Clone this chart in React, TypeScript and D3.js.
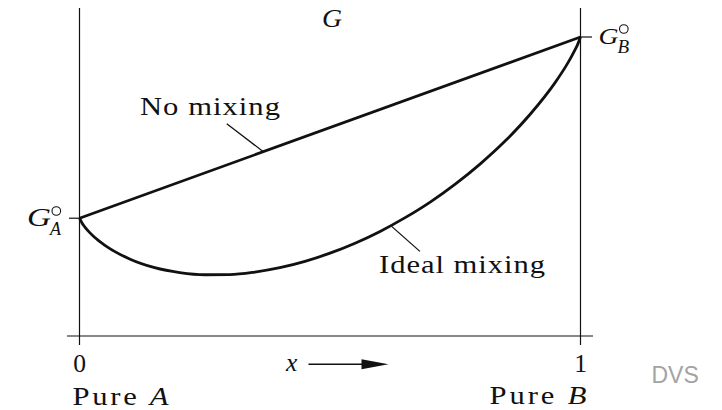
import React from "react";
import * as d3 from "d3";

// Mole fraction of B and the Gibbs energy
const compositions = [0, 0.005, 0.01, 0.02, 0.03, 0.05, 0.1, 0.15, 0.2, 0.25, 0.3, 0.35, 0.4, 0.45, 0.5, 0.55, 0.6, 0.65, 0.7, 0.75, 0.8, 0.85, 0.9, 0.95, 0.97, 0.98, 0.99, 0.995, 1];
const idealMixingG = [1, 0.9735, 0.954, 0.922, 0.895, 0.852, 0.775, 0.727, 0.7, 0.688, 0.689, 0.703, 0.727, 0.762, 0.807, 0.862, 0.927, 1.003, 1.089, 1.188, 1.3, 1.427, 1.575, 1.751, 1.835, 1.882, 1.934, 1.9635, 2];
const noMixingX = [0, 1];
const noMixingG = [1, 2];
const xTicks = [0, 1];
const xTickLabels = ["0", "1"];

const W = 722;
const H = 410;
const FONT = "'Liberation Serif', 'Times New Roman', serif";
const INK = "#111";
const WIDEN = 1.2;

// Serif label widened slightly, remaining width taken up by letter spacing
function Label({ x, y, width, children }: { x: number; y: number; width: number; children: React.ReactNode }) {
  return (
    <text
      transform={`translate(${x},${y}) scale(${WIDEN},1)`}
      textLength={width / WIDEN}
      lengthAdjust="spacing"
    >
      {children}
    </text>
  );
}

// G with a standard-state ring above and a species subscript below
function StdG({
  x, y, sub, gWidth, gSize, subSize, subDy,
}: { x: number; y: number; sub: string; gWidth: number; gSize: number; subSize: number; subDy: number }) {
  return (
    <g transform={`translate(${x},${y})`}>
      <text fontStyle="italic" fontSize={gSize} textLength={gWidth} lengthAdjust="spacingAndGlyphs">G</text>
      <circle cx={gWidth + 5.3} cy={-15} r={4.3} fill="none" stroke={INK} strokeWidth={1.1} />
      <text x={gWidth - 1} y={subDy} fontStyle="italic" fontSize={subSize}>{sub}</text>
    </g>
  );
}

export default function App() {
  const x = d3.scaleLinear().domain([0, 1]).range([79.5, 580.5]);
  const y = d3.scaleLinear().domain([0.35, 2.16]).range([336, 8]);

  const line = d3
    .line<[number, number]>()
    .x((d) => x(d[0]))
    .y((d) => y(d[1]))
    .curve(d3.curveMonotoneX);

  const ideal: [number, number][] = compositions.map((c, i) => [c, idealMixingG[i]]);
  const noMix: [number, number][] = noMixingX.map((c, i) => [c, noMixingG[i]]);

  const yTop = y(2.16);
  const yBase = y(0.35);

  const gA = y(noMixingG[0]);
  const gB = y(noMixingG[1]);

  // leader anchors on the curves
  const noMixAnchor = { x: 0.367, g: 1.367 };
  const idealAnchor = { x: 0.623, g: 0.955 };
  const nmx = x(noMixAnchor.x);
  const nmy = y(noMixAnchor.g);
  const idx = x(idealAnchor.x);
  const idy = y(idealAnchor.g);

  return (
    <svg
      width={W}
      height={H}
      style={{ position: "absolute", left: 0, top: 0, background: "#fff" }}
      fontFamily={FONT}
    >
      {/* frame: two composition verticals and the baseline */}
      <g stroke={INK} strokeWidth={1.2} fill="none">
        <line x1={x(0)} x2={x(0)} y1={yTop} y2={yBase + 9} />
        <line x1={x(1)} x2={x(1)} y1={yTop} y2={yBase + 9} />
        <line x1={x(0) - 12.5} x2={x(1) + 12.5} y1={yBase} y2={yBase} />
        <line x1={x(0) - 10.5} x2={x(0)} y1={gA} y2={gA} />
        <line x1={x(1)} x2={x(1) + 11.5} y1={gB} y2={gB} />
      </g>

      {/* curves */}
      <path d={line(noMix) ?? ""} fill="none" stroke={INK} strokeWidth={2.8} strokeLinejoin="round" />
      <path d={line(ideal) ?? ""} fill="none" stroke={INK} strokeWidth={2.8} strokeLinejoin="round" />

      {/* leaders */}
      <g stroke={INK} strokeWidth={1.3}>
        <line x1={nmx - 36.6} y1={nmy - 28} x2={nmx} y2={nmy} />
        <line x1={idx} y1={idy} x2={idx + 28.3} y2={idy + 25} />
      </g>

      <g fill={INK} fontSize={25.5}>
        <Label x={140} y={115} width={140}>No mixing</Label>
        <Label x={379} y={273} width={166}>Ideal mixing</Label>

        {/* axis title */}
        <text x={322} y={26.5} fontStyle="italic" textLength={20} lengthAdjust="spacingAndGlyphs">G</text>

        {/* pure-component energies */}
        <StdG x={27} y={226} sub="A" gWidth={24} gSize={25.5} subSize={18} subDy={8.5} />
        <StdG x={598.5} y={44} sub="B" gWidth={20} gSize={23} subSize={19} subDy={9} />

        {/* composition ticks */}
        {xTicks.map((t, i) => (
          <text key={t} x={x(t)} y={371.5} textAnchor="middle">{xTickLabels[i]}</text>
        ))}

        <Label x={72.5} y={405} width={96}>
          Pure <tspan fontStyle="italic">A</tspan>
        </Label>
        <Label x={489.5} y={404} width={97}>
          Pure <tspan fontStyle="italic">B</tspan>
        </Label>

        {/* composition arrow */}
        <text x={286} y={371} fontStyle="italic">x</text>
      </g>
      <line x1={308.5} x2={366} y1={364.3} y2={364.3} stroke={INK} strokeWidth={1.4} />
      <path d="M361.5,359.3 L388.5,364.3 L361.5,369.3 Z" fill={INK} />

      <text
        x={651.5}
        y={383.3}
        fontFamily="'Liberation Sans', Arial, sans-serif"
        fontSize={23}
        fill="#a3a3a3"
      >
        DVS
      </text>
    </svg>
  );
}
